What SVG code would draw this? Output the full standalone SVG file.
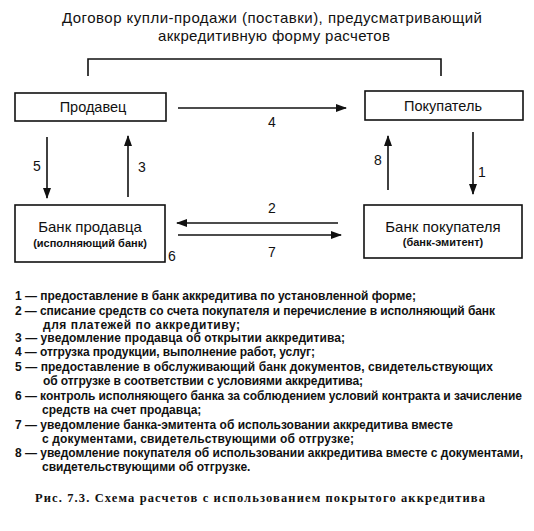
<svg xmlns="http://www.w3.org/2000/svg" width="534" height="531" viewBox="0 0 534 531">
<style>
.box{fill:#fff;stroke:#111;stroke-width:1.6}
.ln{stroke:#111;stroke-width:1.6;fill:none}
.t{font-family:"Liberation Sans",Arial,sans-serif;fill:#111}
.lg{font-family:"Liberation Sans",Arial,sans-serif;font-size:12px;font-weight:bold;fill:#111}
.cap{font-family:"Liberation Serif","Times New Roman",serif;font-size:12.5px;font-weight:bold;fill:#111}
</style>
<defs>
<marker id="ah" markerWidth="11" markerHeight="8" refX="10" refY="4" orient="auto" markerUnits="userSpaceOnUse">
<path d="M0,0 L11,4 L0,8 Z" fill="#111"/>
</marker>
</defs>
<rect width="534" height="531" fill="#fff"/>
<g id="title">
<text class="t" x="272" y="23" font-size="15" text-anchor="middle" textLength="420">Договор купли-продажи (поставки), предусматривающий</text>
<text class="t" x="274" y="41" font-size="15" text-anchor="middle" textLength="232">аккредитивную форму расчетов</text>
</g>
<g id="connectors">
<path class="ln" d="M88,76 V59 H441 V76"/>
<line class="ln" x1="178" y1="108" x2="346" y2="108" marker-end="url(#ah)"/>
<line class="ln" x1="47" y1="137" x2="47" y2="198" marker-end="url(#ah)"/>
<line class="ln" x1="128" y1="197" x2="128" y2="136" marker-end="url(#ah)"/>
<line class="ln" x1="388" y1="190" x2="388" y2="136" marker-end="url(#ah)"/>
<line class="ln" x1="473" y1="132" x2="473" y2="194" marker-end="url(#ah)"/>
<line class="ln" x1="338" y1="223" x2="177" y2="223" marker-end="url(#ah)"/>
<line class="ln" x1="178" y1="235" x2="341" y2="235" marker-end="url(#ah)"/>
<text class="t" x="272" y="127" font-size="14" text-anchor="middle">4</text>
<text class="t" x="37" y="171" font-size="14" text-anchor="middle">5</text>
<text class="t" x="142" y="172" font-size="14" text-anchor="middle">3</text>
<text class="t" x="378" y="165" font-size="14" text-anchor="middle">8</text>
<text class="t" x="482" y="177" font-size="14" text-anchor="middle">1</text>
<text class="t" x="272" y="213" font-size="14" text-anchor="middle">2</text>
<text class="t" x="272" y="257" font-size="14" text-anchor="middle">7</text>
<text class="t" x="172" y="261" font-size="14" text-anchor="middle">6</text>
</g>
<g id="seller">
<rect class="box" x="15" y="93" width="151" height="28"/>
<text class="t" x="93" y="112" font-size="14.5" text-anchor="middle">Продавец</text>
</g>
<g id="buyer">
<rect class="box" x="365" y="91" width="158" height="29"/>
<text class="t" x="443" y="111" font-size="14.5" text-anchor="middle">Покупатель</text>
</g>
<g id="seller-bank">
<rect class="box" x="15" y="205" width="150" height="57"/>
<text class="t" x="90" y="232" font-size="15" text-anchor="middle">Банк продавца</text>
<text class="t" x="90" y="247" font-size="11" font-weight="bold" text-anchor="middle">(исполняющий банк)</text>
</g>
<g id="buyer-bank">
<rect class="box" x="364" y="205" width="158" height="53"/>
<text class="t" x="443" y="232" font-size="15" text-anchor="middle">Банк покупателя</text>
<text class="t" x="443" y="246" font-size="11" font-weight="bold" text-anchor="middle">(банк-эмитент)</text>
</g>
<g id="legend">
<text class="lg" x="15" y="300" textLength="401">1 — предоставление в банк аккредитива по установленной форме;</text>
<text class="lg" x="15" y="315" textLength="480">2 — списание средств со счета покупателя и перечисление в исполняющий банк</text>
<text class="lg" x="43" y="329" textLength="197">для платежей по аккредитиву;</text>
<text class="lg" x="15" y="342" textLength="330">3 — уведомление продавца об открытии аккредитива;</text>
<text class="lg" x="15" y="356" textLength="300">4 — отгрузка продукции, выполнение работ, услуг;</text>
<text class="lg" x="15" y="371" textLength="478">5 — предоставление в обслуживающий банк документов, свидетельствующих</text>
<text class="lg" x="43" y="385" textLength="320">об отгрузке в соответствии с условиями аккредитива;</text>
<text class="lg" x="15" y="400" textLength="507">6 — контроль исполняющего банка за соблюдением условий контракта и зачисление</text>
<text class="lg" x="42" y="414">средств на счет продавца;</text>
<text class="lg" x="15" y="429" textLength="438">7 — уведомление банка-эмитента об использовании аккредитива вместе</text>
<text class="lg" x="42" y="443" textLength="312">с документами, свидетельствующими об отгрузке;</text>
<text class="lg" x="15" y="457" textLength="508">8 — уведомление покупателя об использовании аккредитива вместе с документами,</text>
<text class="lg" x="42" y="471">свидетельствующими об отгрузке.</text>
</g>
<text class="cap" x="35" y="502" textLength="450">Рис. 7.3. Схема расчетов с использованием покрытого аккредитива</text>
</svg>
